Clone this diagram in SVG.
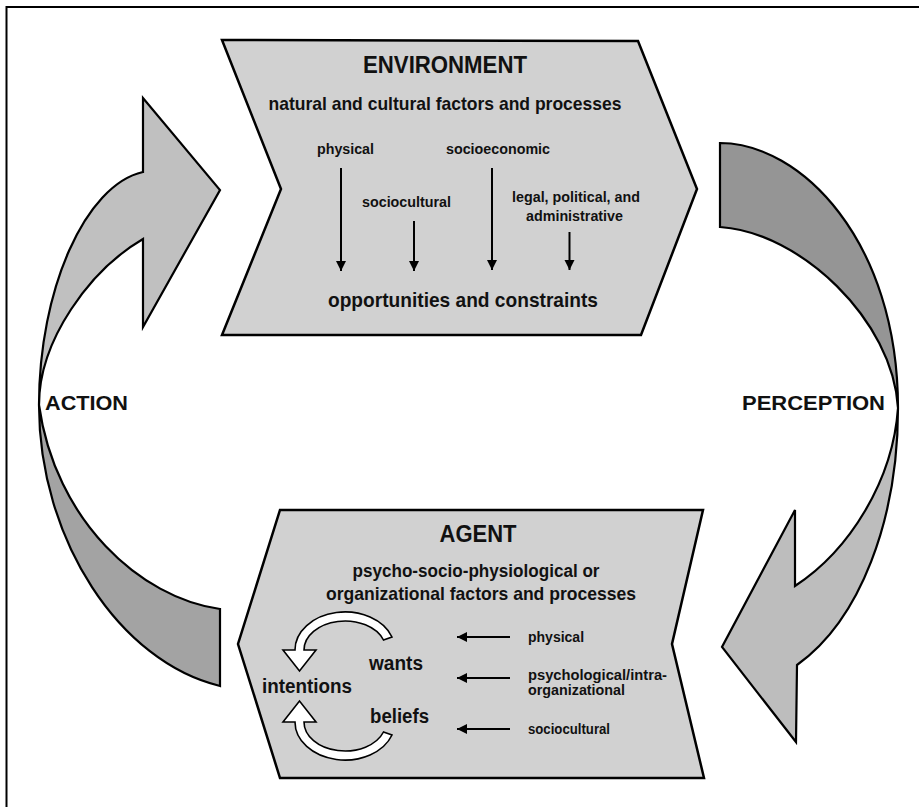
<svg xmlns="http://www.w3.org/2000/svg" width="919" height="807" viewBox="0 0 919 807">
<style>
  text { font-family: "Liberation Sans", Arial, sans-serif; font-weight: bold; fill: #111; }
  .box { fill: #d1d1d1; stroke: #000; stroke-width: 2.5; stroke-linejoin: miter; }
  .band { stroke: #000; stroke-width: 2.2; stroke-linejoin: miter; }
  .light { fill: #c0c0c0; }
  .dark { fill: #a3a3a3; }
  .darker { fill: #959595; }
  .lighter { fill: #bdbdbd; }
  .conn { stroke: #000; stroke-width: 2; fill: none; }
  .ring { fill: #fff; stroke: #000; stroke-width: 1.6; stroke-linejoin: miter; }
  .mid { text-anchor: middle; }
</style>
<defs>
  <marker id="ah" viewBox="0 0 10 12" refX="10" refY="6" markerWidth="5.5" markerHeight="6" markerUnits="strokeWidth" orient="auto">
    <path d="M0,1 L10,6 L0,11 Z" fill="#000"/>
  </marker>
</defs>
<rect width="919" height="807" fill="#fff"/>
<!-- frame -->
<path d="M6.5,807 L6.5,7 L919,7" fill="none" stroke="#000" stroke-width="2"/>

<!-- ACTION ribbon arrow -->
<g id="action">
  <path class="band dark" d="M39,405 C39,540 120,662 220,686 L220,609 C140,598 55,520 39,405 Z"/>
  <path class="band light" d="M143,172 L143,98 L220,190 L143,327 L143,239 C90,270 39,340 39,405 C39,290 85,185 143,172 Z"/>
  <text x="45" y="410" font-size="21" textLength="83" lengthAdjust="spacingAndGlyphs">ACTION</text>
</g>

<!-- PERCEPTION ribbon arrow -->
<g id="perception">
  <path class="band darker" d="M720,143 C800,143 898,240 898,408 C893,320 800,232 720,227 Z"/>
  <path class="band lighter" d="M898,408 C898,520 860,620 797,665 L796,742 L722,647 L795,510 L795,586 C850,550 893,480 898,408 Z"/>
  <text x="742" y="410" font-size="21" textLength="143" lengthAdjust="spacingAndGlyphs">PERCEPTION</text>
</g>

<!-- ENVIRONMENT -->
<g id="environment">
  <path class="box" d="M222,40 L638,41 L697,189 L641,335 L222,335 L281,189 Z"/>
  <text class="mid" x="445" y="73" font-size="24.5" textLength="164" lengthAdjust="spacingAndGlyphs">ENVIRONMENT</text>
  <text class="mid" x="445" y="110" font-size="18.5" textLength="353" lengthAdjust="spacingAndGlyphs">natural and cultural factors and processes</text>
  <text x="317" y="154" font-size="14.5" textLength="57" lengthAdjust="spacingAndGlyphs">physical</text>
  <text x="446" y="154" font-size="14.5" textLength="104" lengthAdjust="spacingAndGlyphs">socioeconomic</text>
  <text x="362" y="207" font-size="14.5" textLength="89" lengthAdjust="spacingAndGlyphs">sociocultural</text>
  <text x="512" y="202" font-size="14.5" textLength="128" lengthAdjust="spacingAndGlyphs">legal, political, and</text>
  <text x="526" y="221" font-size="14.5" textLength="97" lengthAdjust="spacingAndGlyphs">administrative</text>
  <text class="mid" x="463" y="307" font-size="20.5" textLength="270" lengthAdjust="spacingAndGlyphs">opportunities and constraints</text>
</g>

<!-- AGENT -->
<g id="agent">
  <path class="box" d="M280,510 L703,510 L672,644 L704,778 L280,778 L238,644 Z"/>
  <text class="mid" x="478" y="542" font-size="23" textLength="77" lengthAdjust="spacingAndGlyphs">AGENT</text>
  <text class="mid" x="476" y="577" font-size="18" textLength="247" lengthAdjust="spacingAndGlyphs">psycho-socio-physiological or</text>
  <text class="mid" x="481" y="600" font-size="18.5" textLength="310" lengthAdjust="spacingAndGlyphs">organizational factors and processes</text>
  <text class="mid" x="396" y="670" font-size="20" textLength="54" lengthAdjust="spacingAndGlyphs">wants</text>
  <text class="mid" x="307" y="693" font-size="20" textLength="90" lengthAdjust="spacingAndGlyphs">intentions</text>
  <text class="mid" x="399.5" y="723" font-size="20" textLength="59" lengthAdjust="spacingAndGlyphs">beliefs</text>
  <text x="528" y="642" font-size="14">physical</text>
  <text x="528" y="680" font-size="14" textLength="139" lengthAdjust="spacingAndGlyphs">psychological/intra-</text>
  <text x="528" y="695" font-size="14" textLength="97" lengthAdjust="spacingAndGlyphs">organizational</text>
  <text x="528" y="734" font-size="14" textLength="82" lengthAdjust="spacingAndGlyphs">sociocultural</text>
  <path class="ring" d="M392,637 A50,38 0 0 0 295,650 L283,650 L299.5,671 L316,650 L304,650 A41,29 0 0 1 383.5,640 Z"/>
  <path class="ring" transform="translate(0,1372) scale(1,-1)" d="M392,637 A50,38 0 0 0 295,650 L283,650 L299.5,671 L316,650 L304,650 A41,29 0 0 1 383.5,640 Z"/>
</g>

<!-- connectors -->
<g id="connectors">
  <line class="conn" x1="341" y1="168" x2="341" y2="271" marker-end="url(#ah)"/>
  <line class="conn" x1="414" y1="221" x2="414" y2="271" marker-end="url(#ah)"/>
  <line class="conn" x1="492" y1="168" x2="492" y2="270" marker-end="url(#ah)"/>
  <line class="conn" x1="569.5" y1="232" x2="569.5" y2="270" marker-end="url(#ah)"/>
  <line class="conn" x1="510" y1="637" x2="457" y2="637" marker-end="url(#ah)"/>
  <line class="conn" x1="510" y1="678" x2="457" y2="678" marker-end="url(#ah)"/>
  <line class="conn" x1="510" y1="729" x2="457" y2="729" marker-end="url(#ah)"/>
</g>
</svg>
